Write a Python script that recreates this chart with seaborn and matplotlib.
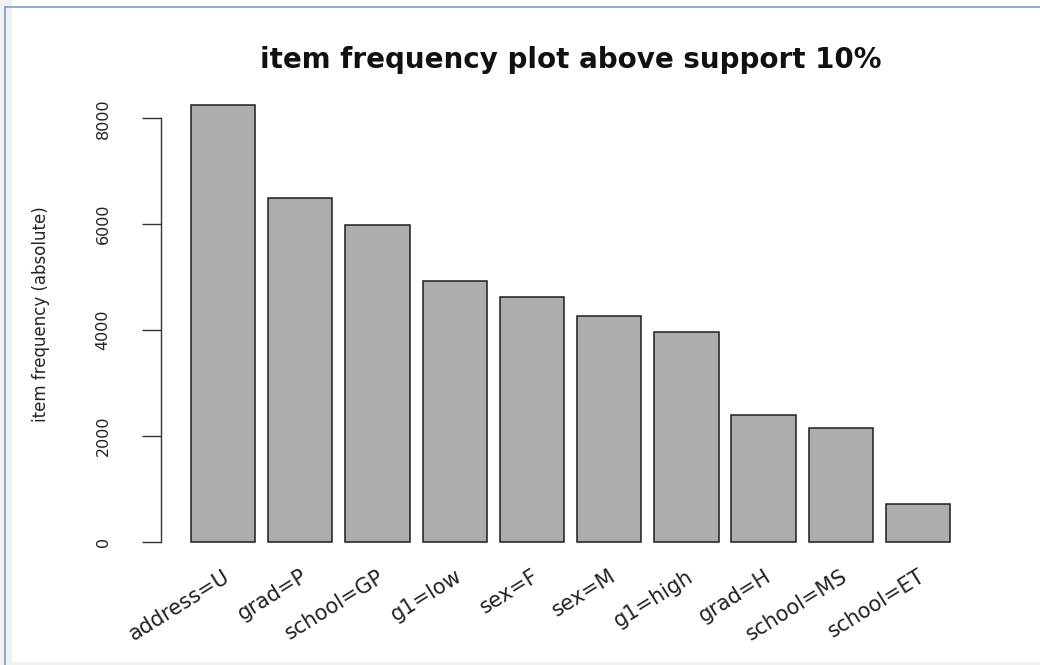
import matplotlib
matplotlib.use('Agg')
import matplotlib.pyplot as plt
from matplotlib.patches import Rectangle
from matplotlib.lines import Line2D
import seaborn as sns

# item frequencies (absolute)
items = ['address=U', 'grad=P', 'school=GP', 'g1=low', 'sex=F',
         'sex=M', 'g1=high', 'grad=H', 'school=MS', 'school=ET']
counts = [8258, 6500, 5985, 4926, 4630, 4271, 3968, 2394, 2154, 718]
yticks = [0, 2000, 4000, 6000, 8000]

sns.set_style('white')
plt.rcParams['font.family'] = ['DejaVu Sans']

fig = plt.figure(figsize=(10.4, 6.65), dpi=100)
ax = fig.add_axes([0.1544, 0.1591, 0.7885, 0.7098])

sns.barplot(x=items, y=counts, color='#adadad', saturation=1,
            edgecolor='#1e1e1e', linewidth=1.1, width=0.833, ax=ax)

# R style extents (4% padding)
ax.set_xlim(-0.81, len(items) - 1 + 0.81)
ax.set_ylim(-330, 8588)

for s in ['top', 'right', 'bottom']:
    ax.spines[s].set_visible(False)
ax.spines['left'].set_bounds(0, 8000)
ax.spines['left'].set_color('#333333')
ax.spines['left'].set_linewidth(1.0)

ax.set_yticks(yticks)
ax.set_yticklabels([str(v) for v in yticks])
ax.tick_params(axis='y', length=14, width=1.0, color='#333333', pad=22,
               labelsize=11.5, labelcolor='#222222', left=True)
for lab in ax.get_yticklabels():
    lab.set_rotation(90)
    lab.set_va('center')

ax.set_xticks(range(len(items)))
ax.set_xticklabels(items, rotation=32, ha='right', va='top',
                   rotation_mode='anchor', fontsize=15, color='#222222')
ax.tick_params(axis='x', length=0, pad=5)

ax.set_xlabel('')
ax.set_ylabel('item frequency (absolute)', fontsize=12, color='#222222')
ax.yaxis.set_label_coords(-0.135, 0.52)

ax.set_title('item frequency plot above support 10%', fontsize=20,
             fontweight='bold', pad=13.8, color='#111111')

# window frame of the screenshot
W, H = 1040, 665
fig.add_artist(Rectangle((0, 0), 12 / W, 1, transform=fig.transFigure,
                         facecolor='#f0f0f0', edgecolor='none', zorder=-1))
fig.add_artist(Rectangle((0, 0), 1, 3 / H, transform=fig.transFigure,
                         facecolor='#f0f0f0', edgecolor='none', zorder=-1))
fig.add_artist(Line2D([5 / W, 1], [1 - 7 / H, 1 - 7 / H], transform=fig.transFigure,
                      color='#7f9cc8', linewidth=1.2))
fig.add_artist(Line2D([5 / W, 5 / W], [0, 1 - 7 / H], transform=fig.transFigure,
                      color='#7f9cc8', linewidth=1.2))

fig.savefig('out.png', dpi=100)
